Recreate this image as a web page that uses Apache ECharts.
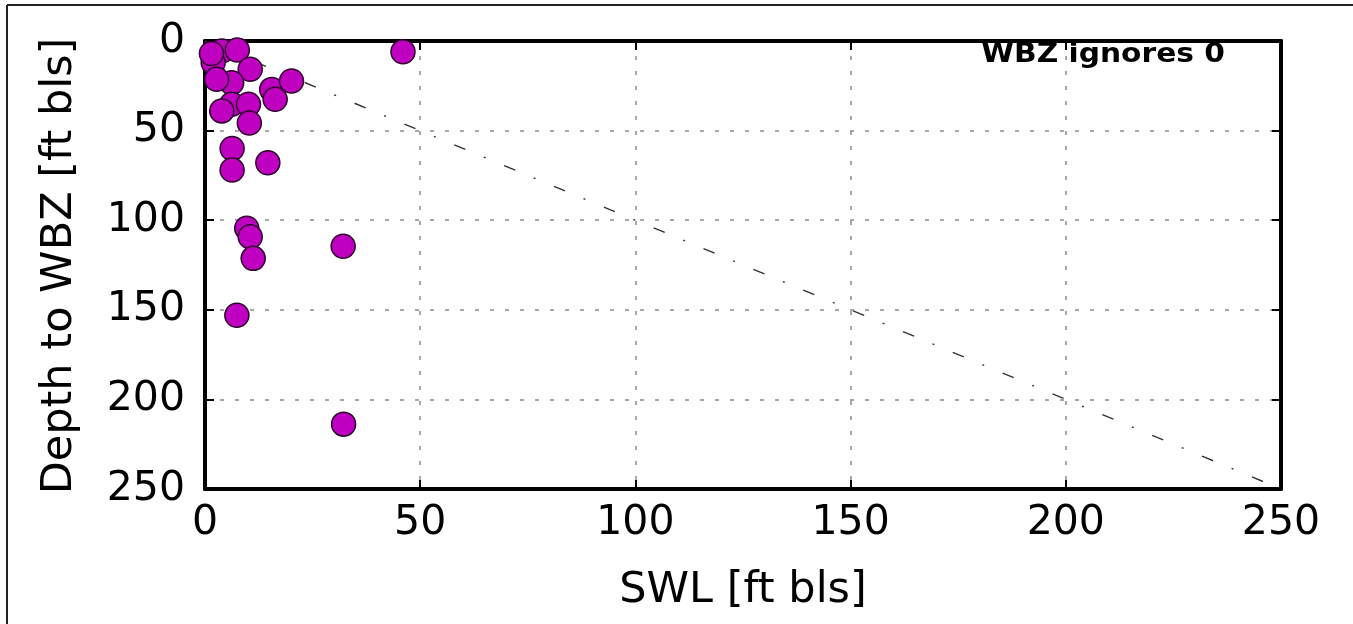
<!DOCTYPE html>
<html>
<head>
<meta charset="utf-8">
<script src="https://cdn.jsdelivr.net/npm/echarts@6/dist/echarts.min.js"></script>
<style>
html,body{margin:0;padding:0;background:#fff;}
#chart{width:1353px;height:624px;}
</style>
</head>
<body>
<div id="chart"></div>
<script>
// SWL [ft bls] vs Depth to WBZ [ft bls]
var swl = [46, 3.9, 7.5, 1.9, 1.5, 10.5, 6.2, 2.7, 15.5, 20.1, 16.3, 6.2, 10.1, 3.9, 10.3, 6.3, 6.3, 14.6, 9.7, 10.5, 11.2, 7.4, 32.1, 32.2];
var wbz = [6, 5.6, 5, 12, 7, 15.8, 23.3, 21.4, 27, 22.3, 32.5, 35.3, 35.3, 39, 45.8, 60, 72, 68, 104.5, 109.2, 121.3, 153, 114.5, 213.8];
var oneToOne = [[0, 0], [250, 250]];
var axisMin = 0, axisMax = 250, axisStep = 50;
var xTitle = 'SWL [ft bls]';
var yTitle = 'Depth to WBZ [ft bls]';
var note = 'WBZ ignores 0';

var points = swl.map(function (v, i) { return [v, wbz[i]]; });
var FONT = 'DejaVu Sans';

var chart = echarts.init(document.getElementById('chart'), null, {renderer: 'canvas'});

function baseAxis(extra) {
  var a = {
    type: 'value', min: axisMin, max: axisMax, interval: axisStep,
    axisLine: {show: true, onZero: false, lineStyle: {color: '#000', width: 4}},
    axisTick: {show: true, inside: true, length: 9, lineStyle: {color: '#000', width: 2}},
    axisLabel: {show: false},
    splitLine: {show: false}
  };
  for (var k in extra) a[k] = extra[k];
  return a;
}

var gridStyle = {show: true, lineStyle: {color: '#8c8c8c', width: 1.5, type: [4, 11]}};

chart.setOption({
  animation: false,
  backgroundColor: '#fff',
  grid: {left: 205, top: 41, width: 1076, height: 448, containLabel: false},
  xAxis: [
    baseAxis({position: 'bottom',
      axisLabel: {show: true, color: '#000', fontFamily: FONT, fontSize: 41, margin: 14},
      splitLine: gridStyle}),
    baseAxis({position: 'top'})
  ],
  yAxis: [
    baseAxis({position: 'left', inverse: true,
      axisLabel: {show: true, color: '#000', fontFamily: FONT, fontSize: 41, margin: 20},
      splitLine: gridStyle}),
    baseAxis({position: 'right', inverse: true})
  ],
  series: [
    {
      type: 'line', xAxisIndex: 0, yAxisIndex: 0, data: oneToOne,
      symbol: 'none', z: 2, silent: true,
      lineStyle: {color: '#333', width: 1.4, type: [12, 20, 2, 20]}
    },
    {
      type: 'scatter', xAxisIndex: 0, yAxisIndex: 0, data: points,
      symbol: 'circle', symbolSize: 24, z: 5,
      itemStyle: {color: '#c000c0', borderColor: '#2b002b', borderWidth: 1.5, opacity: 1}
    }
  ],
  graphic: [
    {type: 'line', shape: {x1: 7, y1: 5, x2: 1353, y2: 5}, style: {stroke: '#222', lineWidth: 2}},
    {type: 'line', shape: {x1: 7, y1: 5, x2: 7, y2: 624}, style: {stroke: '#222', lineWidth: 2}},
    {type: 'text', x: 743, y: 591, style: {text: xTitle, fill: '#000', font: '43px "DejaVu Sans"', textAlign: 'center', textVerticalAlign: 'middle'}},
    {type: 'text', x: 60, y: 266, rotation: Math.PI / 2, style: {text: yTitle, fill: '#000', font: '43px "DejaVu Sans"', textAlign: 'center', textVerticalAlign: 'middle'}},
    {type: 'text', x: 1225, y: 55, z: 10, scaleX: 1.1, style: {text: note, fill: '#000', font: 'bold 27px "DejaVu Sans"', textAlign: 'right', textVerticalAlign: 'middle'}}
  ]
});
</script>
</body>
</html>
